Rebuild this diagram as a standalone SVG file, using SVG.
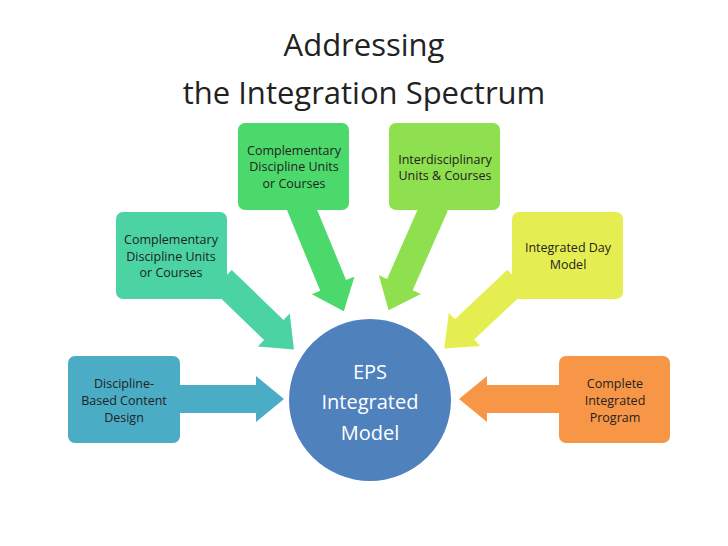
<svg xmlns="http://www.w3.org/2000/svg" width="728" height="546" viewBox="0 0 728 546">
<style>
.t{font-family:"Open Sans","Liberation Sans",sans-serif;text-anchor:middle}
.title{font-size:31px;fill:#222}
.b{font-size:12.5px;fill:#222}
.c{font-size:20px;fill:#fff}
</style>
<rect width="728" height="546" fill="#fff"/>
<text class="t title" x="364" y="56">Addressing</text>
<text class="t title" x="364" y="104">the Integration Spectrum</text>
<g id="connectors">
<path transform="translate(180,399)" d="M0,-14H76V-23L104,0L76,23V14H0Z" fill="#4BACC6"/>
<path transform="translate(559,399) rotate(180)" d="M0,-14H72V-23L100,0L72,23V14H0Z" fill="#F79646"/>
<path transform="translate(222,280) rotate(44)" d="M0,-14H72V-23L100,0L72,23V14H0Z" fill="#4BD3A4"/>
<path transform="translate(300,205) rotate(67.6)" d="M0,-14H87V-23L115,0L87,23V14H0Z" fill="#4CD96B"/>
<path transform="translate(435,205) rotate(113.8)" d="M0,-14H87V-23L115,0L87,23V14H0Z" fill="#8EE04E"/>
<path transform="translate(517,280) rotate(136.7)" d="M0,-14H72V-23L100,0L72,23V14H0Z" fill="#E5EE50"/>
</g>
<g id="b1"><rect x="68" y="356" width="112" height="87" rx="7" fill="#4BACC6"/>
<text class="t b" x="124" y="388">Discipline-</text><text class="t b" x="124" y="405">Based Content</text><text class="t b" x="124" y="422">Design</text></g>
<g id="b2"><rect x="116" y="212" width="111" height="87" rx="7" fill="#4BD3A4"/>
<text class="t b" x="171" y="244">Complementary</text><text class="t b" x="171" y="261">Discipline Units</text><text class="t b" x="171" y="277">or Courses</text></g>
<g id="b3"><rect x="238" y="123" width="111" height="87" rx="7" fill="#4CD96B"/>
<text class="t b" x="294" y="155">Complementary</text><text class="t b" x="294" y="171">Discipline Units</text><text class="t b" x="294" y="188">or Courses</text></g>
<g id="b4"><rect x="389" y="123" width="111" height="87" rx="7" fill="#8EE04E"/>
<text class="t b" x="445" y="164">Interdisciplinary</text><text class="t b" x="445" y="180">Units &amp; Courses</text></g>
<g id="b5"><rect x="512" y="212" width="111" height="87" rx="7" fill="#E5EE50"/>
<text class="t b" x="568" y="252">Integrated Day</text><text class="t b" x="568" y="269">Model</text></g>
<g id="b6"><rect x="559" y="356" width="111" height="87" rx="7" fill="#F79646"/>
<text class="t b" x="615" y="388">Complete</text><text class="t b" x="615" y="405">Integrated</text><text class="t b" x="615" y="422">Program</text></g>
<g id="center"><circle cx="370" cy="400" r="81" fill="#4F81BD"/>
<text class="t c" x="370" y="379">EPS</text><text class="t c" x="370" y="409">Integrated</text><text class="t c" x="370" y="440">Model</text></g>
</svg>
